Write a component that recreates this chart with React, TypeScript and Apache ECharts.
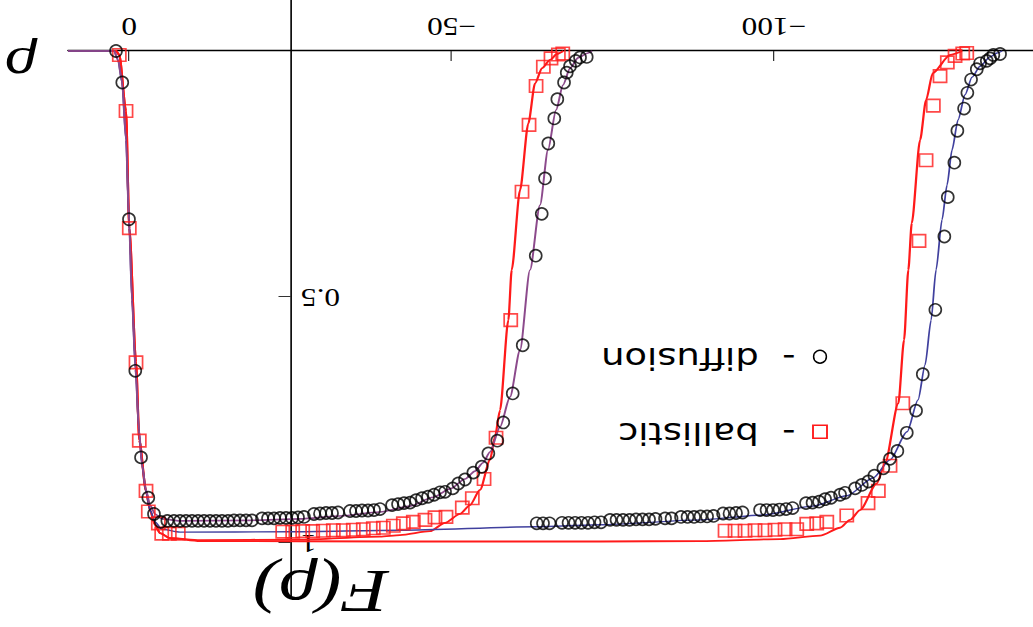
import React, { useEffect, useRef } from "react";
import * as echarts from "echarts";

// The reference is a plot turned upside down (rotated by 180°) and stretched sideways.
const W = 1033;
const H = 627;
const SX = 1.25;
const CW = W / SX;

const xTicks = [-100, -50, 0];
const yTicks = [0.5, 1];

// Set A: front near rho ≈ -60 ; Set B: front near rho ≈ -125
const diffusionLineA: [number, number][] = [
  [9.51, 0], [2.37, 0], [1.75, 0.018], [1.13, 0.063], [0.51, 0.181], [0.05, 0.343], [-0.42, 0.506],
  [-0.96, 0.648], [-1.5, 0.77], [-1.97, 0.841], [-2.59, 0.892], [-3.21, 0.923], [-3.99, 0.941],
  [-5.07, 0.951], [-7.87, 0.955], [-18.73, 0.954], [-26.48, 0.951], [-32.69, 0.945], [-38.89, 0.937],
  [-43.55, 0.925], [-47.12, 0.907], [-49.76, 0.89], [-52.08, 0.87], [-53.63, 0.854], [-54.87, 0.837],
  [-55.96, 0.815], [-57.51, 0.764], [-59.06, 0.703], [-60.61, 0.608], [-62.16, 0.445], [-63.71, 0.313],
  [-64.95, 0.201], [-66.2, 0.12], [-67.28, 0.069], [-68.37, 0.035], [-69.61, 0.014], [-71.16, 0.004],
  [-71.78, 0],
];

const ballisticLineA: [number, number][] = [
  [9.51, 0], [2.06, 0], [1.55, 0.008], [0.51, 0.122], [0, 0.36], [-1.04, 0.632], [-1.55, 0.791],
  [-2.59, 0.894], [-3.21, 0.933], [-3.99, 0.963], [-4.76, 0.98], [-6.31, 0.99], [-10.97, 0.994],
  [-26.48, 0.993], [-38.89, 0.987], [-41.99, 0.984], [-46.65, 0.976], [-48.98, 0.959], [-51.3, 0.941],
  [-52.85, 0.923], [-54.4, 0.892], [-55.96, 0.831], [-56.73, 0.784], [-57.51, 0.73], [-58.8, 0.547],
  [-59.32, 0.445], [-60.61, 0.283], [-61.9, 0.147], [-62.94, 0.066], [-64.03, 0.035], [-65.27, 0.018],
  [-66.35, 0.006], [-67.33, 0],
];

const diffusionLineB: [number, number][] = [
  [9.51, 0], [2.37, 0], [1.75, 0.018], [1.13, 0.063], [0.51, 0.181], [0.05, 0.343], [-0.42, 0.506],
  [-0.96, 0.648], [-1.5, 0.77], [-1.97, 0.841], [-2.59, 0.896], [-3.21, 0.933], [-3.99, 0.957],
  [-5.07, 0.972], [-7.87, 0.978], [-24.93, 0.977], [-42, 0.974], [-62.94, 0.967], [-73.02, 0.963],
  [-88.54, 0.953], [-98.31, 0.943], [-106.07, 0.925], [-111.34, 0.904], [-115.38, 0.868],
  [-118.02, 0.831], [-120.65, 0.774], [-122.36, 0.709], [-123.45, 0.638], [-124.38, 0.547],
  [-125.15, 0.445], [-126.08, 0.343], [-126.86, 0.272], [-127.63, 0.201], [-128.56, 0.14],
  [-129.65, 0.089], [-130.74, 0.053], [-131.98, 0.031], [-133.53, 0.012], [-134.62, 0.004], [-135.4, 0],
];

const ballisticLineB: [number, number][] = [
  [9.51, 0], [2.06, 0], [1.55, 0.008], [0.51, 0.122], [0, 0.36], [-1.04, 0.632], [-1.55, 0.791],
  [-2.59, 0.894], [-3.21, 0.933], [-3.99, 0.963], [-4.76, 0.98], [-6.31, 0.99], [-10.97, 0.996],
  [-41.96, 0.997], [-73.02, 0.997], [-88.54, 0.996], [-100.95, 0.992], [-107.16, 0.985],
  [-110.26, 0.969], [-111.81, 0.953], [-113.36, 0.933], [-115.95, 0.879], [-117.24, 0.838],
  [-119.3, 0.716], [-120.19, 0.587], [-120.85, 0.445], [-121.38, 0.35], [-122.67, 0.181],
  [-123.6, 0.1], [-124.64, 0.045], [-127.33, 0.008], [-129.18, 0],
];

const diffusionPointsA: [number, number][] = [
  [2.06, 0], [1.09, 0.064], [0.05, 0.342], [-0.93, 0.65], [-1.82, 0.826], [-2.95, 0.908], [-3.83, 0.941],
  [-4.87, 0.957], [-5.9, 0.955], [-6.93, 0.955], [-7.87, 0.955], [-8.8, 0.955], [-9.73, 0.955],
  [-10.66, 0.955], [-11.59, 0.955], [-12.52, 0.955], [-13.45, 0.955], [-14.38, 0.955], [-15.31, 0.955],
  [-16.24, 0.954], [-17.18, 0.954], [-18.11, 0.954], [-19.04, 0.954], [-20.59, 0.95], [-21.52, 0.95],
  [-22.45, 0.95], [-23.38, 0.949], [-24.31, 0.949], [-25.24, 0.949], [-26.17, 0.948], [-27.1, 0.947],
  [-28.65, 0.941], [-29.58, 0.94], [-30.52, 0.939], [-31.45, 0.939], [-32.38, 0.938], [-34.24, 0.935],
  [-35.17, 0.935], [-36.1, 0.934], [-37.03, 0.934], [-37.96, 0.933], [-38.89, 0.931], [-40.76, 0.923],
  [-41.69, 0.921], [-42.62, 0.919], [-43.55, 0.918], [-44.48, 0.913], [-45.41, 0.909], [-46.34, 0.906],
  [-47.27, 0.902], [-48.2, 0.897], [-48.98, 0.896], [-50.17, 0.889], [-51.04, 0.879], [-52.08, 0.871],
  [-53.37, 0.857], [-54.67, 0.845], [-55.7, 0.818], [-57.09, 0.792], [-58.02, 0.755], [-59.48, 0.696],
  [-61.03, 0.598], [-63.05, 0.416], [-63.98, 0.331], [-64.49, 0.259], [-65, 0.188], [-65.93, 0.137],
  [-66.4, 0.098], [-67.44, 0.064], [-67.86, 0.044], [-68.37, 0.031], [-69.25, 0.02], [-69.92, 0.013],
  [-70.96, 0.012],
];

const diffusionPointsB: [number, number][] = [
  [-63.2, 0.96], [-64.18, 0.96], [-65.19, 0.96], [-67.13, 0.959], [-68.14, 0.959], [-69.15, 0.959],
  [-70.15, 0.959], [-71.16, 0.959], [-72.17, 0.958], [-73.18, 0.958], [-74.58, 0.953], [-75.58, 0.953],
  [-76.59, 0.953], [-77.6, 0.953], [-78.61, 0.952], [-79.62, 0.952], [-80.63, 0.952], [-81.63, 0.951],
  [-83.11, 0.95], [-84.12, 0.95], [-85.59, 0.947], [-86.6, 0.947], [-87.61, 0.947], [-88.62, 0.946],
  [-89.63, 0.946], [-90.63, 0.945], [-92.11, 0.94], [-93.11, 0.94], [-94.12, 0.939], [-95.13, 0.938],
  [-97.85, 0.933], [-98.86, 0.933], [-99.86, 0.933], [-100.87, 0.932], [-101.88, 0.931], [-102.89, 0.929],
  [-104.98, 0.919], [-105.99, 0.918], [-107, 0.916], [-107.93, 0.911], [-108.86, 0.908], [-110.26, 0.902],
  [-111.03, 0.898], [-112.59, 0.889], [-113.63, 0.882], [-114.65, 0.875], [-115.58, 0.863],
  [-116.98, 0.848], [-118.01, 0.829], [-119.15, 0.813], [-120.61, 0.776], [-122.05, 0.731],
  [-123.09, 0.657], [-125.04, 0.526], [-126.44, 0.377], [-126.97, 0.297], [-127.99, 0.227],
  [-128.46, 0.162], [-129.5, 0.117], [-130.01, 0.085], [-130.58, 0.058], [-131.47, 0.037],
  [-131.98, 0.025], [-133.02, 0.02], [-133.53, 0.015], [-134.04, 0.008], [-135.08, 0.006],
];

const ballisticPointsA: [number, number][] = [
  [1.55, 0.008], [0.51, 0.122], [0, 0.36], [-1.04, 0.633], [-1.55, 0.792], [-2.59, 0.894], [-2.95, 0.936],
  [-4.5, 0.96], [-5.03, 0.981], [-6.21, 0.981], [-7.6, 0.981], [-23.8, 0.977], [-25.35, 0.977],
  [-26.9, 0.976], [-28.45, 0.976], [-30.1, 0.975], [-31.65, 0.974], [-33.2, 0.974], [-34.75, 0.973],
  [-36.3, 0.972], [-37.85, 0.97], [-39.41, 0.969], [-40.96, 0.965], [-42.51, 0.96], [-44.06, 0.957],
  [-45.87, 0.953], [-47.42, 0.948], [-49.13, 0.947], [-51.66, 0.928], [-53.21, 0.909], [-55.03, 0.87],
  [-56.89, 0.786], [-59.17, 0.547], [-60.92, 0.286], [-62.01, 0.15], [-63.1, 0.071], [-64.23, 0.032],
  [-65.42, 0.015], [-66.56, 0.007], [-67.24, 0.005],
];

const ballisticPointsB: [number, number][] = [
  [-92.42, 0.975], [-93.97, 0.975], [-95.52, 0.975], [-97.07, 0.974], [-98.62, 0.974], [-100.17, 0.973],
  [-101.73, 0.972], [-103.54, 0.972], [-105.09, 0.961], [-106.64, 0.96], [-108.2, 0.957], [-111.3, 0.944],
  [-114.6, 0.919], [-116.2, 0.894], [-118.01, 0.843], [-119.99, 0.716], [-122.51, 0.386], [-123.6, 0.222],
  [-124.73, 0.111], [-125.77, 0.051], [-126.9, 0.023], [-128.1, 0.01], [-129.29, 0.005], [-129.91, 0.004],
];

const legendItems = ["ballistic", "diffusion"];

const RED = "#ff1a1a";
const PURPLE = "#8c4a8c";
const BLUE = "#40409e";
const SERIF = '"Liberation Serif", "Times New Roman", serif';
const SANS = '"DejaVu Sans", sans-serif';

const minusFmt = (v: number) => (v < 0 ? "\u2212" + Math.abs(v) : String(v));

function lineSeries(name: string, data: [number, number][], color: string, width: number) {
  return {
    type: "line",
    name,
    data,
    showSymbol: false,
    symbol: "none",
    smooth: 0.25,
    smoothMonotone: "x",
    clip: false,
    lineStyle: { color, width },
    itemStyle: { color },
    emphasis: { disabled: true },
    z: 3,
  };
}

export default function App() {
  const ref = useRef<HTMLDivElement>(null);

  useEffect(() => {
    document.body.style.margin = "0";
    const chart = echarts.init(ref.current!, null, { renderer: "svg", width: CW, height: H });
    const option = {
      animation: false,
      backgroundColor: "#ffffff",
      grid: { left: 0, right: CW - 772, top: 29, bottom: 0, containLabel: false, outerBoundsMode: "none" },
      xAxis: {
        type: "value",
        min: -140.19,
        max: 9.51,
        position: "bottom",
        offset: -51,
        axisLine: { show: true, onZero: false, lineStyle: { color: "#000", width: 1.3 } },
        axisTick: { show: true, inside: true, length: 10, customValues: xTicks, lineStyle: { color: "#333", width: 1 } },
        axisLabel: {
          show: true,
          customValues: xTicks,
          formatter: minusFmt,
          color: "#000",
          fontFamily: SERIF,
          fontSize: 25,
          margin: 12,
        },
        splitLine: { show: false },
      },
      yAxis: {
        type: "value",
        min: -0.1037,
        max: 1.1118,
        position: "left",
        offset: -593.6,
        axisLine: { show: true, onZero: false, lineStyle: { color: "#000", width: 1.3 } },
        axisTick: { show: true, inside: true, length: 10, customValues: yTicks, lineStyle: { color: "#333", width: 1 } },
        axisLabel: {
          show: true,
          customValues: yTicks,
          color: "#000",
          fontFamily: SERIF,
          fontSize: 25,
          margin: 8,
        },
        splitLine: { show: false },
      },
      series: [
        lineSeries("ballistic B", ballisticLineB, RED, 1.8),
        lineSeries("ballistic A", ballisticLineA, RED, 1.8),
        lineSeries("diffusion B", diffusionLineB, BLUE, 1.4),
        lineSeries("diffusion A", diffusionLineA, PURPLE, 1.6),
        {
          type: "scatter",
          name: "diffusion",
          data: [...diffusionPointsA, ...diffusionPointsB],
          symbol: "circle",
          symbolSize: [9.6, 12],
          itemStyle: { color: "rgba(0,0,0,0)", borderColor: "#000", borderWidth: 1.5 },
          emphasis: { disabled: true },
          z: 5,
        },
        {
          type: "scatter",
          name: "ballistic",
          data: [...ballisticPointsA, ...ballisticPointsB],
          symbol: "rect",
          symbolSize: [10.5, 12.5],
          itemStyle: { color: "rgba(0,0,0,0)", borderColor: RED, borderWidth: 1.5 },
          emphasis: { disabled: true },
          z: 4,
        },
      ],
      graphic: [
        {
          type: "text",
          x: 810,
          y: 560.5,
          style: { text: "\u03c1", fontFamily: SERIF, fontStyle: "italic", fontSize: 52, fill: "#000", align: "center", verticalAlign: "middle" },
        },
        {
          type: "text",
          x: 569.6,
          y: 35,
          style: { text: "F(\u03c1)", fontFamily: SERIF, fontStyle: "italic", fontSize: 62, fill: "#000", align: "center", verticalAlign: "middle" },
        },
        {
          type: "rect",
          shape: { x: 170.4 - 5.6, y: 195.3 - 6.5, width: 11.2, height: 13 },
          style: { fill: "none", stroke: RED, lineWidth: 1.5 },
        },
        {
          type: "circle",
          shape: { cx: 170.4, cy: 270.3, r: 6.4 },
          scaleX: 0.8,
          originX: 170.4,
          originY: 270.3,
          style: { fill: "none", stroke: "#000", lineWidth: 1.5 },
        },
        {
          type: "text",
          x: 190,
          y: 194,
          style: { text: "-  " + legendItems[0], fontFamily: SANS, fontSize: 29.5, fill: "#000", align: "left", verticalAlign: "middle" },
        },
        {
          type: "text",
          x: 190,
          y: 269,
          style: { text: "-  " + legendItems[1], fontFamily: SANS, fontSize: 29.5, fill: "#000", align: "left", verticalAlign: "middle" },
        },
      ],
    };
    chart.setOption(option as any);
    return () => chart.dispose();
  }, []);

  return (
    <div style={{ position: "relative", width: W, height: H, overflow: "hidden", background: "#fff" }}>
      <div
        ref={ref}
        style={{
          position: "absolute",
          left: 0,
          top: 0,
          width: CW,
          height: H,
          transformOrigin: "0 0",
          transform: `translate(${W}px, ${H}px) rotate(180deg) scale(${SX}, 1)`,
        }}
      />
    </div>
  );
}
